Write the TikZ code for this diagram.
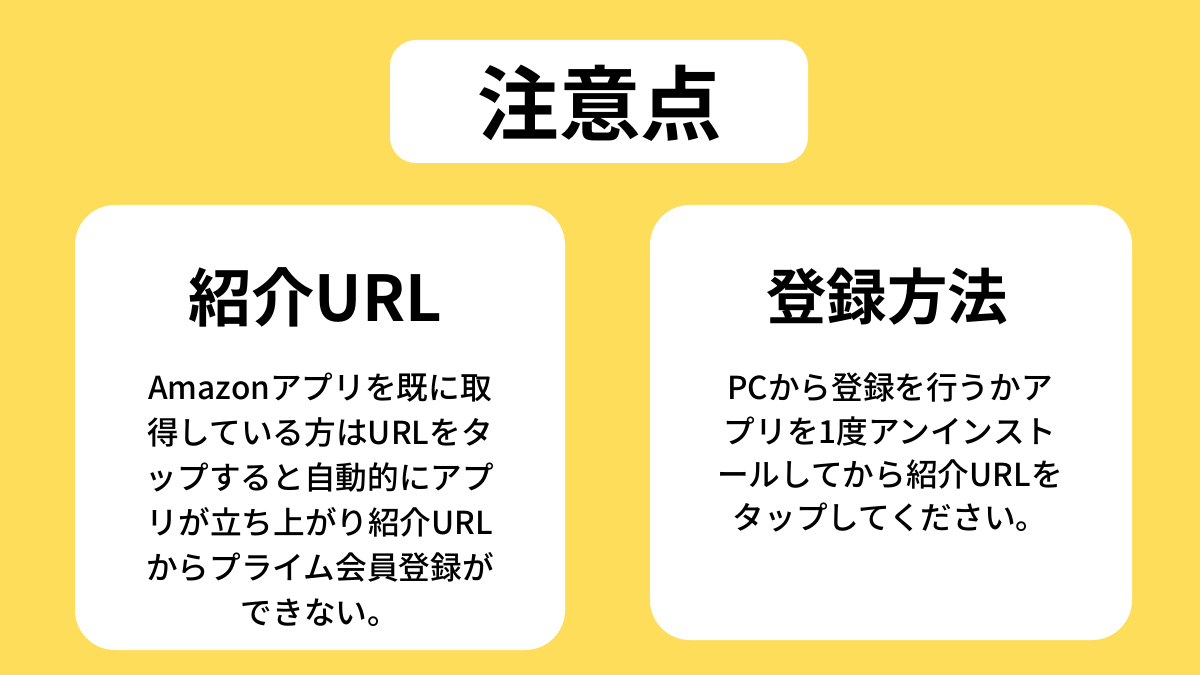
\documentclass[tikz,border=0pt]{standalone}
\usepackage{fontspec}
\newfontfamily\jp{Noto Sans CJK JP Medium}
\newfontfamily\jpb{Noto Sans CJK JP Bold}
\begin{document}
\begin{tikzpicture}[x=0.025cm,y=-0.025cm,
  card/.style={fill=white,rounded corners=1cm},
  body/.style={font=\jp\fontsize{22.5pt}{32pt}\selectfont,align=center,text=black}]
\useasboundingbox (0,0) rectangle (1200,675);
\fill[fill={rgb,255:red,254;green,221;blue,90}] (0,0) rectangle (1200,675);
\fill[card,rounded corners=0.65cm] (390,40) rectangle (808,163);
\node (title) at (600,103) {\jpb\fontsize{58pt}{58pt}\selectfont 注意点};
\fill[card] (75,205) rectangle (565,650);
\fill[card] (650,205) rectangle (1132,640);
\node (h1) at (315,297) {\jpb\fontsize{45pt}{45pt}\selectfont 紹介URL};
\node (h2) at (887,297) {\jpb\fontsize{43pt}{43pt}\selectfont 登録方法};
\node[body,anchor=north] (b1) at (320,368) {Amazonアプリを既に取\\得している方はURLをタ\\ップすると自動的にアプ\\リが立ち上がり紹介URL\\からプライム会員登録が\\できない。};
\node[body,anchor=north,font=\jp\fontsize{22.5pt}{30.8pt}\selectfont] (b2) at (890,368) {PCから登録を行うかア\\プリを1度アンインスト\\ールしてから紹介URLを\\タップしてください。};
\end{tikzpicture}
\end{document}
